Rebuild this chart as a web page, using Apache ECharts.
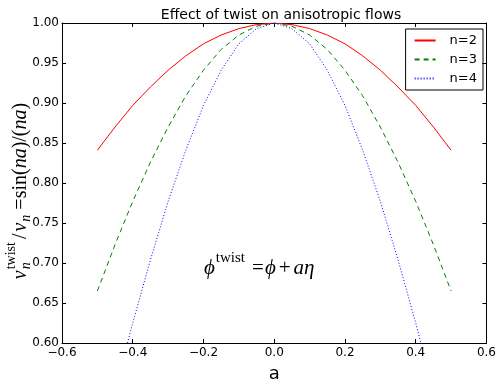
<!DOCTYPE html>
<html>
<head>
<meta charset="utf-8">
<script src="https://cdn.jsdelivr.net/npm/echarts@6/dist/echarts.min.js"></script>
<style>
  html, body { margin: 0; padding: 0; background: #fff; }
  #chart { width: 499px; height: 388px; }
</style>
</head>
<body>
<div id="chart"></div>
<script>
// twist parameter a
const aValues = [-0.5, -0.45, -0.4, -0.35, -0.3, -0.25, -0.2, -0.15, -0.1, -0.05, 0,
  0.05, 0.1, 0.15, 0.2, 0.25, 0.3, 0.35, 0.4, 0.45, 0.5];
// sin(na)/(na)
const n2 = [0.841, 0.870, 0.897, 0.920, 0.941, 0.959, 0.974, 0.985, 0.993, 0.998, 1.000,
  0.998, 0.993, 0.985, 0.974, 0.959, 0.941, 0.920, 0.897, 0.870, 0.841];
const n3 = [0.665, 0.723, 0.777, 0.826, 0.870, 0.909, 0.941, 0.967, 0.985, 0.996, 1.000,
  0.996, 0.985, 0.967, 0.941, 0.909, 0.870, 0.826, 0.777, 0.723, 0.665];
const n4 = [0.455, 0.541, 0.625, 0.704, 0.777, 0.841, 0.897, 0.941, 0.974, 0.993, 1.000,
  0.993, 0.974, 0.941, 0.897, 0.841, 0.777, 0.704, 0.625, 0.541, 0.455];

const seriesDefs = [
  { name: "n=2", values: n2, color: "#ff0000", type: "solid" },
  { name: "n=3", values: n3, color: "#008000", type: [5, 4] },
  { name: "n=4", values: n4, color: "#0000ff", type: [1, 2] },
];

const FONT = "DejaVu Sans";
const MATH = "Liberation Serif";

// lay out a bit of mathtext as separate text pieces in one group,
// so a subscript and a superscript can stack on the same base
const measureCtx = document.createElement("canvas").getContext("2d");
function mathGroup(tokens, opts) {
  let x = 0;
  let prevStart = 0;
  const children = [];
  tokens.forEach((tk) => {
    const font = `${tk.italic ? "italic " : ""}${tk.size || opts.size}px "${MATH}"`;
    measureCtx.font = font;
    const w = measureCtx.measureText(tk.t).width;
    let start;
    if (tk.stack) {
      start = prevStart;
      x = Math.max(x, start + w);
    } else {
      start = x + (tk.dx || 0);
      x = start + w;
      prevStart = start;
    }
    children.push({
      type: "text",
      x: start,
      y: tk.dy || 0,
      style: { text: tk.t, font, fill: "#000", align: "left", verticalAlign: "middle" },
    });
  });
  if (opts.center) children.forEach((c) => (c.x -= x / 2));
  return { type: "group", x: opts.x, y: opts.y, rotation: opts.rotation || 0, children };
}

const chart = echarts.init(document.getElementById("chart"));

const tickStyle = { inside: true, length: 4, lineStyle: { color: "#000", width: 1 } };
const lineStyle = { lineStyle: { color: "#000", width: 1 } };
const fmtX = (v) => v.toFixed(1).replace("-", "\u2212");

const yLabel = mathGroup(
  [
    { t: "v", italic: true },
    { t: "n", italic: true, size: 14, dy: 5, dx: 1 },
    { t: "twist", size: 14, dy: -10, stack: true },
    { t: "/", dx: 3 },
    { t: "v", italic: true, dx: 2 },
    { t: "n", italic: true, size: 14, dy: 5, dx: 1 },
    { t: "=sin(", dx: 5 },
    { t: "na", italic: true },
    { t: ")/(" },
    { t: "na", italic: true },
    { t: ")" },
  ],
  { x: 21, y: 191, rotation: Math.PI / 2, center: true, size: 20 }
);

const annot = mathGroup(
  [
    { t: "\u03D5", italic: true },
    { t: "twist", size: 15, dy: -10, dx: 1 },
    { t: "=", dx: 7 },
    { t: "\u03D5", italic: true, dx: 1 },
    { t: "+", dx: 3 },
    { t: "a\u03B7", italic: true, dx: 3 },
  ],
  { x: 204, y: 268, size: 21 }
);

chart.setOption({
  animation: false,
  title: {
    text: "Effect of twist on anisotropic flows",
    left: 276,
    textAlign: "center",
    top: 3,
    textStyle: { fontFamily: FONT, fontSize: 14, fontWeight: "normal", color: "#000" },
  },
  grid: { left: 62, right: 11, top: 23, bottom: 35 },
  legend: {
    orient: "vertical",
    right: 16,
    top: 29,
    padding: [5, 6, 5, 8],
    itemWidth: 21,
    itemHeight: 14,
    itemGap: 6,
    borderColor: "#000",
    borderWidth: 1,
    borderRadius: 0,
    itemStyle: { opacity: 0, borderWidth: 0 },
    textStyle: { fontFamily: FONT, fontSize: 13, color: "#000", padding: [0, 0, 0, 9] },
    data: seriesDefs.map((s) => s.name),
  },
  xAxis: [
    {
      type: "value",
      min: -0.6,
      max: 0.6,
      interval: 0.2,
      name: "a",
      nameLocation: "middle",
      nameGap: 22,
      nameTextStyle: { fontFamily: FONT, fontSize: 18, color: "#000" },
      axisLine: { onZero: false, ...lineStyle },
      axisTick: tickStyle,
      axisLabel: { fontFamily: FONT, fontSize: 12, color: "#000", margin: 4, formatter: fmtX },
      splitLine: { show: false },
    },
    {
      type: "value",
      position: "top",
      min: -0.6,
      max: 0.6,
      interval: 0.2,
      axisLine: { onZero: false, ...lineStyle },
      axisTick: tickStyle,
      axisLabel: { show: false },
      splitLine: { show: false },
    },
  ],
  yAxis: [
    {
      type: "value",
      min: 0.6,
      max: 1.0,
      interval: 0.05,
      axisLine: { show: true, onZero: false, ...lineStyle },
      axisTick: tickStyle,
      axisLabel: { fontFamily: FONT, fontSize: 12, color: "#000", margin: 3, formatter: (v) => v.toFixed(2) },
      splitLine: { show: false },
    },
    {
      type: "value",
      position: "right",
      min: 0.6,
      max: 1.0,
      interval: 0.05,
      axisLine: { show: true, onZero: false, ...lineStyle },
      axisTick: tickStyle,
      axisLabel: { show: false },
      splitLine: { show: false },
    },
  ],
  series: seriesDefs.map((s) => ({
    name: s.name,
    type: "line",
    symbol: "none",
    clip: true,
    color: s.color,
    lineStyle: { color: s.color, width: 1, type: s.type },
    data: aValues.map((a, i) => [a, s.values[i]]),
  })),
  graphic: [yLabel, annot],
});
</script>
</body>
</html>
